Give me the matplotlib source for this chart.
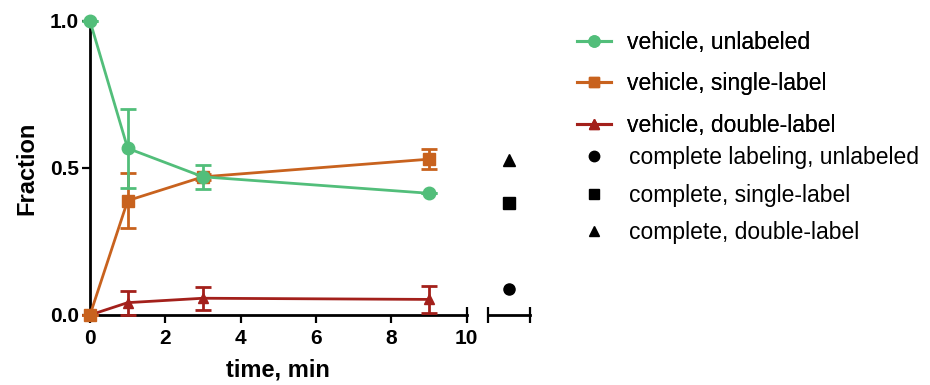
import matplotlib
matplotlib.use("Agg")
import matplotlib.pyplot as plt
from matplotlib.lines import Line2D

plt.rcParams["font.family"] = ["Liberation Sans", "DejaVu Sans"]

# time points (min)
time = [0, 1, 3, 9]

# vehicle series: mean and error
unlabeled = [1.0, 0.567, 0.470, 0.414]
unlabeled_err = [0.0, 0.135, 0.041, 0.0]
single = [0.0, 0.389, 0.470, 0.530]
single_err = [0.0, 0.093, 0.01, 0.035]
double = [0.0, 0.042, 0.057, 0.053]
double_err = [0.0, 0.041, 0.039, 0.047]

# complete labeling reference values
complete_labels = ["complete labeling, unlabeled", "complete, single-label", "complete, double-label"]
complete_values = [0.088, 0.380, 0.527]
complete_markers = ["o", "s", "^"]

vehicle_labels = ["vehicle, unlabeled", "vehicle, single-label", "vehicle, double-label"]
vehicle_colors = ["#52BE7A", "#C8621E", "#A3201B"]
vehicle_markers = ["o", "s", "^"]
vehicle_sizes = [9, 8.5, 7.5]
vehicle_z = [5, 4, 3]

xticks = [0, 2, 4, 6, 8]
yticks = [0.0, 0.5, 1.0]

fig = plt.figure(figsize=(9.3, 3.85), dpi=100)
ax = fig.add_axes([90 / 930, 70 / 385, 376.7 / 930, 294 / 385])
ax2 = fig.add_axes([488.3 / 930, 70 / 385, 41.7 / 930, 294 / 385])

handles = []
for y, e, c, m, s, z in zip([unlabeled, single, double],
                            [unlabeled_err, single_err, double_err],
                            vehicle_colors, vehicle_markers, vehicle_sizes,
                            vehicle_z):
    eb = ax.errorbar(time, y, yerr=e, color=c, marker=m, markersize=s,
                     linewidth=2, elinewidth=2, capsize=5.5, capthick=2,
                     clip_on=False, zorder=z)
    for art in eb.lines[1] + eb.lines[2]:
        art.set_clip_on(False)
    handles.append(Line2D([], [], color=c, marker=m, markersize=s - 1,
                          linewidth=2.2))

ax.set_xlim(0, 10)
ax.set_ylim(0, 1)
ax.set_xticks(xticks)
ax.set_xticks([10], labels=["10"], minor=True)
ax.set_yticks(yticks, labels=["0.0", "0.5", "1.0"])
for side in ["top", "right"]:
    ax.spines[side].set_visible(False)
for side in ["left", "bottom"]:
    ax.spines[side].set_linewidth(2)
ax.tick_params(which="major", direction="out", length=6, width=1.6, pad=2)
ax.tick_params(axis="x", which="minor", direction="inout", length=12,
               width=1.6, pad=2)
ax.tick_params(axis="x", which="both", pad=4)
for lbl in ax.get_xticklabels(which="both") + ax.get_yticklabels():
    lbl.set_fontweight("bold")
    lbl.set_fontsize(15)
ax.set_xlabel("time, min", fontsize=17, fontweight="bold", labelpad=8)
ax.set_ylabel("Fraction", fontsize=17, fontweight="bold", labelpad=8)

comp_handles = []
for v, m in zip(complete_values, complete_markers):
    ax2.plot([0.5], [v], linestyle="none", marker=m, color="black",
             markersize=8, clip_on=False)
    comp_handles.append(Line2D([], [], linestyle="none", marker=m,
                               color="black", markersize=7.5))
ax2.set_xlim(0, 1)
ax2.set_ylim(0, 1)
ax2.set_xticks([0, 1], labels=["", ""])
ax2.set_yticks([])
for side in ["top", "right", "left"]:
    ax2.spines[side].set_visible(False)
ax2.spines["bottom"].set_linewidth(2)
ax2.tick_params(axis="x", direction="inout", length=12, width=1.6)
ax2.patch.set_visible(False)

leg1 = fig.legend(handles, vehicle_labels, loc="upper left",
                  bbox_to_anchor=(577 / 930, 1 - 31 / 385), frameon=False,
                  fontsize=16.5, handlelength=1.5, handletextpad=0.7,
                  labelspacing=0.8, borderpad=0, borderaxespad=0)
fig.legend(comp_handles, complete_labels, loc="upper left",
           bbox_to_anchor=(577 / 930, 1 - 146 / 385), frameon=False,
           fontsize=16.5, handlelength=1.5, handletextpad=0.75,
           labelspacing=0.64, borderpad=0, borderaxespad=0)
fig.add_artist(leg1)

fig.savefig("out.png", dpi=100)
